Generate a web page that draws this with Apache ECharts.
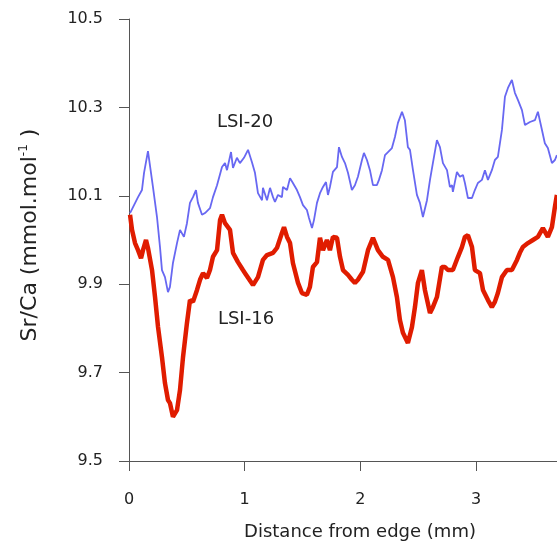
<!DOCTYPE html>
<html>
<head>
<meta charset="utf-8">
<title>Sr/Ca profiles</title>
<script src="https://cdn.jsdelivr.net/npm/echarts@6/dist/echarts.min.js"></script>
<style>
  html, body { margin: 0; padding: 0; background: #fff; }
  #chart { width: 557px; height: 548px; }
</style>
</head>
<body>
<div id="chart"></div>
<script>
// Distance from edge (mm) and Sr/Ca (mmol/mol) for profile LSI-20
const distLSI20 = [0.009,0.078,0.112,0.130,0.164,0.207,0.242,0.268,0.285,0.311,0.337,0.354,0.380,0.415,0.441,0.458,0.475,0.501,0.527,0.553,0.579,0.596,0.631,0.657,0.700,0.726,0.761,0.804,0.830,0.847,0.882,0.899,0.933,0.959,0.994,1.029,1.063,1.089,1.115,1.150,1.158,1.193,1.219,1.245,1.262,1.288,1.322,1.331,1.366,1.392,1.417,1.452,1.478,1.504,1.538,1.556,1.582,1.599,1.625,1.651,1.677,1.703,1.720,1.737,1.763,1.798,1.815,1.841,1.867,1.893,1.927,1.953,1.979,2.014,2.031,2.057,2.083,2.109,2.143,2.161,2.187,2.213,2.239,2.273,2.299,2.325,2.360,2.385,2.411,2.429,2.455,2.489,2.515,2.541,2.576,2.602,2.627,2.662,2.688,2.714,2.749,2.774,2.792,2.800,2.835,2.861,2.887,2.904,2.930,2.965,2.990,3.016,3.051,3.077,3.103,3.137,3.163,3.189,3.224,3.250,3.276,3.310,3.336,3.362,3.397,3.423,3.440,3.466,3.509,3.535,3.570,3.595,3.621,3.656,3.682,3.699];
const srcaLSI20 = [10.061,10.097,10.113,10.152,10.201,10.120,10.052,9.984,9.932,9.916,9.882,9.894,9.948,9.993,10.023,10.027,10.007,10.038,10.084,10.097,10.113,10.084,10.057,10.061,10.072,10.097,10.124,10.165,10.174,10.158,10.199,10.163,10.186,10.174,10.186,10.204,10.176,10.152,10.106,10.090,10.118,10.090,10.118,10.097,10.086,10.102,10.097,10.120,10.113,10.140,10.129,10.113,10.097,10.079,10.068,10.050,10.027,10.045,10.084,10.106,10.120,10.131,10.102,10.120,10.154,10.165,10.210,10.188,10.174,10.152,10.113,10.124,10.143,10.181,10.197,10.181,10.158,10.124,10.124,10.136,10.158,10.192,10.199,10.208,10.233,10.265,10.290,10.271,10.210,10.204,10.158,10.102,10.084,10.052,10.090,10.136,10.174,10.226,10.210,10.174,10.158,10.120,10.124,10.109,10.154,10.143,10.147,10.129,10.095,10.095,10.113,10.129,10.136,10.158,10.136,10.158,10.181,10.188,10.249,10.324,10.344,10.362,10.333,10.317,10.294,10.260,10.256,10.267,10.271,10.290,10.249,10.219,10.208,10.174,10.181,10.192];

// Distance from edge (mm) and Sr/Ca (mmol/mol) for profile LSI-16
const distLSI16 = [0.009,0.026,0.052,0.078,0.104,0.121,0.147,0.164,0.199,0.225,0.251,0.285,0.311,0.337,0.354,0.380,0.415,0.441,0.467,0.501,0.527,0.553,0.588,0.614,0.640,0.674,0.700,0.726,0.761,0.787,0.804,0.830,0.873,0.899,0.942,0.985,1.003,1.072,1.115,1.158,1.193,1.245,1.279,1.322,1.340,1.366,1.392,1.417,1.461,1.495,1.538,1.564,1.590,1.625,1.651,1.677,1.711,1.737,1.763,1.798,1.824,1.850,1.893,1.927,1.953,1.979,2.023,2.066,2.109,2.152,2.195,2.239,2.282,2.316,2.342,2.368,2.411,2.446,2.472,2.498,2.532,2.558,2.602,2.627,2.662,2.705,2.731,2.757,2.800,2.844,2.878,2.904,2.930,2.965,2.990,3.034,3.060,3.103,3.137,3.163,3.189,3.224,3.267,3.310,3.354,3.379,3.405,3.449,3.492,3.535,3.578,3.621,3.656,3.682,3.699];
const srcaLSI16 = [10.057,10.023,9.993,9.977,9.959,9.977,10.000,9.982,9.932,9.871,9.803,9.735,9.676,9.638,9.631,9.600,9.615,9.661,9.735,9.812,9.864,9.860,9.887,9.910,9.925,9.914,9.932,9.962,9.977,10.045,10.057,10.038,10.023,9.971,9.950,9.932,9.925,9.898,9.916,9.955,9.966,9.971,9.982,10.016,10.029,10.007,9.993,9.948,9.903,9.880,9.876,9.894,9.939,9.950,10.005,9.977,10.000,9.977,10.007,10.005,9.962,9.932,9.921,9.910,9.903,9.910,9.928,9.977,10.005,9.977,9.962,9.955,9.916,9.871,9.819,9.790,9.767,9.803,9.848,9.903,9.932,9.887,9.835,9.848,9.871,9.939,9.939,9.932,9.932,9.962,9.984,10.007,10.011,9.984,9.932,9.925,9.887,9.864,9.848,9.860,9.880,9.916,9.932,9.932,9.955,9.971,9.984,9.993,10.000,10.007,10.027,10.007,10.029,10.075,10.102];

// Axis ticks
const xTicks = [0, 1, 2, 3];
const yTicks = [9.5, 9.7, 9.9, 10.1, 10.3, 10.5];

const FONT = 'DejaVu Sans';
const AXIS_COLOR = '#555';
const TEXT_COLOR = '#222';

const pairs = (xs, ys) => xs.map((x, i) => [x, ys[i]]);

const chart = echarts.init(document.getElementById('chart'), null, { renderer: 'canvas' });

chart.setOption({
  animation: false,
  backgroundColor: '#fff',
  grid: { left: 129, right: 0, top: 19, bottom: 87, containLabel: false },
  xAxis: {
    type: 'value',
    min: 0,
    max: 3.7,
    name: 'Distance from edge (mm)',
    nameLocation: 'middle',
    nameGap: 62,
    nameTextStyle: { fontFamily: FONT, fontSize: 18, color: TEXT_COLOR, padding: [0, 0, 0, 34] },
    axisLine: { show: true, lineStyle: { color: AXIS_COLOR, width: 1 } },
    axisTick: { show: true, length: 10, customValues: xTicks, lineStyle: { color: AXIS_COLOR } },
    axisLabel: { customValues: xTicks, margin: 31, fontFamily: FONT, fontSize: 16, color: TEXT_COLOR },
    splitLine: { show: false }
  },
  yAxis: {
    type: 'value',
    min: 9.5,
    max: 10.5,
    name: '{t|Sr/Ca (mmol.mol}{s|-1}{t| )}',
    nameLocation: 'middle',
    nameRotate: 90,
    nameGap: 86,
    nameTextStyle: {
      color: TEXT_COLOR,
      padding: [0, 0, 0, 10],
      rich: {
        t: { fontFamily: FONT, fontSize: 22, color: TEXT_COLOR, lineHeight: 25 },
        s: { fontFamily: FONT, fontSize: 12, color: TEXT_COLOR, lineHeight: 12, verticalAlign: 'top' }
      }
    },
    axisLine: { show: true, lineStyle: { color: AXIS_COLOR, width: 1 } },
    axisTick: { show: true, length: 10, customValues: yTicks, lineStyle: { color: AXIS_COLOR } },
    axisLabel: {
      customValues: yTicks,
      margin: 26,
      fontFamily: FONT,
      fontSize: 16,
      color: TEXT_COLOR,
      formatter: v => v.toFixed(1)
    },
    splitLine: { show: false }
  },
  graphic: [
    { type: 'text', x: 245, y: 122, style: { text: 'LSI-20', fontFamily: FONT, fontSize: 18, fill: TEXT_COLOR, align: 'center', verticalAlign: 'middle' } },
    { type: 'text', x: 246, y: 319, style: { text: 'LSI-16', fontFamily: FONT, fontSize: 18, fill: TEXT_COLOR, align: 'center', verticalAlign: 'middle' } }
  ],
  series: [
    {
      name: 'LSI-20',
      type: 'line',
      data: pairs(distLSI20, srcaLSI20),
      showSymbol: false,
      symbol: 'none',
      lineStyle: { color: '#6868f2', width: 1.8 },
      z: 2
    },
    {
      name: 'LSI-16',
      type: 'line',
      data: pairs(distLSI16, srcaLSI16),
      showSymbol: false,
      symbol: 'none',
      lineStyle: { color: '#e01c00', width: 4.5 },
      z: 3
    }
  ]
});
</script>
</body>
</html>
